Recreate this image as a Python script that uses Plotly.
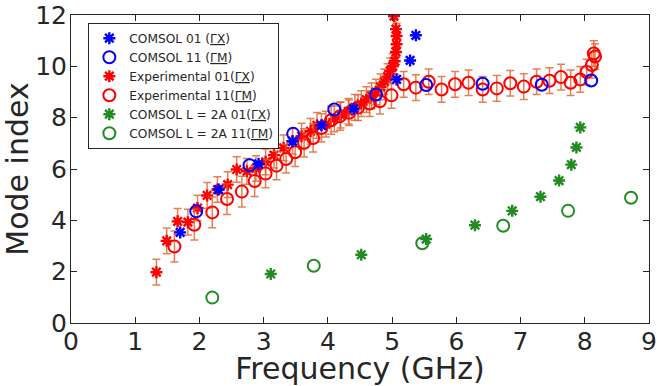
import plotly.graph_objects as go

# COMSOL 01 (ΓX)
c01_x = [1.70, 2.30, 2.92, 3.45, 3.90, 4.40, 5.07, 5.28, 5.37]
c01_y = [3.53, 5.20, 6.20, 7.08, 7.70, 8.35, 9.49, 10.23, 11.21]
# COMSOL 11 (ΓM)
c11_x = [1.95, 2.78, 3.46, 4.10, 4.75, 5.53, 6.41, 7.33, 8.10]
c11_y = [4.35, 6.15, 7.37, 8.32, 8.90, 9.27, 9.32, 9.28, 9.45]
# Experimental 01 (ΓX)
e01_x = [1.33, 1.49, 1.66, 1.82, 1.97, 2.12, 2.28, 2.44, 2.58, 2.74, 2.88, 3.03, 3.16,
         3.31, 3.45, 3.59, 3.73, 3.83, 3.97, 4.10, 4.20, 4.32, 4.42, 4.52, 4.60, 4.68,
         4.75, 4.82, 4.88, 4.93, 4.97, 5.01, 5.04, 5.06, 5.07, 5.07, 5.06, 5.03]
e01_y = [1.98, 3.20, 3.96, 3.93, 4.48, 4.97, 5.20, 5.39, 5.98, 5.91, 6.02, 6.28, 6.54,
         6.82, 7.08, 7.28, 7.47, 7.70, 7.75, 7.95, 8.10, 8.25, 8.40, 8.55, 8.70, 8.85,
         9.00, 9.20, 9.40, 9.60, 9.82, 10.00, 10.20, 10.56, 10.86, 11.18, 11.45, 11.96]
e01_err = [0.50, 0.50, 0.50, 0.50, 0.50, 0.50, 0.50, 0.50, 0.50, 0.50, 0.50, 0.50, 0.50,
           0.50, 0.50, 0.50, 0.50, 0.50, 0.50, 0.50, 0.50, 0.50, 0.50, 0.50, 0.50, 0.50,
           0.50, 0.50, 0.50, 0.50, 0.50, 0.50, 0.50, 0.50, 0.50, 0.50, 0.50, 0.50]
# Experimental 11 (ΓM)
e11_x = [1.61, 1.92, 2.20, 2.43, 2.66, 2.86, 3.03, 3.20, 3.35, 3.49, 3.63, 3.77, 3.90,
         4.05, 4.19, 4.33, 4.47, 4.65, 4.81, 4.99, 5.18, 5.37, 5.57, 5.77, 5.98, 6.19,
         6.41, 6.63, 6.84, 7.05, 7.25, 7.45, 7.63, 7.78, 7.93, 8.03, 8.11, 8.16, 8.14]
e11_y = [2.98, 3.83, 4.31, 4.83, 5.12, 5.53, 5.82, 6.13, 6.39, 6.65, 7.02, 7.21, 7.60,
         7.90, 8.06, 8.19, 8.39, 8.55, 8.64, 8.87, 9.30, 9.17, 9.40, 9.10, 9.30, 9.36,
         9.10, 9.14, 9.34, 9.21, 9.40, 9.44, 9.58, 9.36, 9.49, 9.78, 10.05, 10.38, 10.50]
e11_err = [0.60, 0.60, 0.60, 0.60, 0.60, 0.60, 0.55, 0.55, 0.55, 0.55, 0.55, 0.55, 0.55,
           0.55, 0.55, 0.50, 0.50, 0.50, 0.50, 0.50, 0.50, 0.50, 0.50, 0.50, 0.50, 0.50,
           0.50, 0.50, 0.50, 0.50, 0.50, 0.50, 0.50, 0.50, 0.50, 0.50, 0.50, 0.50, 0.50]
# COMSOL L = 2A 01 (ΓX)
g01_x = [3.11, 4.52, 5.53, 6.29, 6.87, 7.31, 7.60, 7.79, 7.87, 7.93]
g01_y = [1.91, 2.66, 3.27, 3.81, 4.37, 4.92, 5.55, 6.17, 6.84, 7.62]
# COMSOL L = 2A 11 (ΓM)
g11_x = [2.20, 3.78, 5.47, 6.73, 7.74, 8.72]
g11_y = [0.99, 2.23, 3.11, 3.79, 4.37, 4.88]

names = ["COMSOL 01 (<u>ΓX</u>)", "COMSOL 11 (<u>ΓM</u>)",
         "Experimental 01(<u>ΓX</u>)", "Experimental 11(<u>ΓM</u>)",
         "COMSOL L = 2A 01(<u>ΓX</u>)", "COMSOL L = 2A 11(<u>ΓM</u>)"]

BLUE = "rgb(0,0,255)"
RED = "rgb(255,0,0)"
GREEN = "rgb(34,139,34)"
ERR = "rgba(222,95,40,0.8)"


def star(c):
    return dict(symbol="asterisk-open", size=10, color=c, line=dict(color=c, width=2.4))


def circ(c):
    return dict(symbol="circle-open", size=12, color=c, line=dict(color=c, width=2))


fig = go.Figure()
fig.add_trace(go.Scatter(x=e01_x, y=e01_y, mode="markers", name=names[2], legendrank=3,
                         marker=star(RED),
                         error_y=dict(type="data", array=e01_err, color=ERR, thickness=1.5, width=4)))
fig.add_trace(go.Scatter(x=e11_x, y=e11_y, mode="markers", name=names[3], legendrank=4,
                         marker=circ(RED),
                         error_y=dict(type="data", array=e11_err, color=ERR, thickness=1.5, width=4)))
fig.add_trace(go.Scatter(x=c01_x, y=c01_y, mode="markers", name=names[0], legendrank=1,
                         marker=star(BLUE)))
fig.add_trace(go.Scatter(x=c11_x, y=c11_y, mode="markers", name=names[1], legendrank=2,
                         marker=circ(BLUE)))
fig.add_trace(go.Scatter(x=g01_x, y=g01_y, mode="markers", name=names[4], legendrank=5,
                         marker=star(GREEN)))
fig.add_trace(go.Scatter(x=g11_x, y=g11_y, mode="markers", name=names[5], legendrank=6,
                         marker=circ(GREEN)))

axis_common = dict(showgrid=False, zeroline=False, showline=True, linecolor="#262626",
                   linewidth=1, mirror="ticks", ticks="inside", ticklen=6,
                   tickcolor="#262626", tickfont=dict(size=25, color="#262626"),
                   automargin=False)

fig.update_layout(
    width=657, height=386,
    margin=dict(l=71, r=8, t=15, b=63),
    paper_bgcolor="white", plot_bgcolor="white",
    font=dict(family="DejaVu Sans", color="#262626"),
    xaxis=dict(range=[0, 9], dtick=1, ticklabelstandoff=-4,
               title=dict(text="Frequency (GHz)", font=dict(size=30), standoff=0),
               **axis_common),
    yaxis=dict(range=[0, 12], dtick=2, ticklabelstandoff=-2,
               title=dict(text="Mode index", font=dict(size=30), standoff=2),
               **axis_common),
    legend=dict(x=0.03, y=0.975, xanchor="left", yanchor="top", bgcolor="white",
                bordercolor="#262626", borderwidth=1, font=dict(size=12.2, color="#262626"),
                tracegroupgap=0, itemwidth=30),
    showlegend=True,
)

fig.write_html("out.html", config={"displayModeBar": False},
               post_script="document.body.style.margin='0';")
